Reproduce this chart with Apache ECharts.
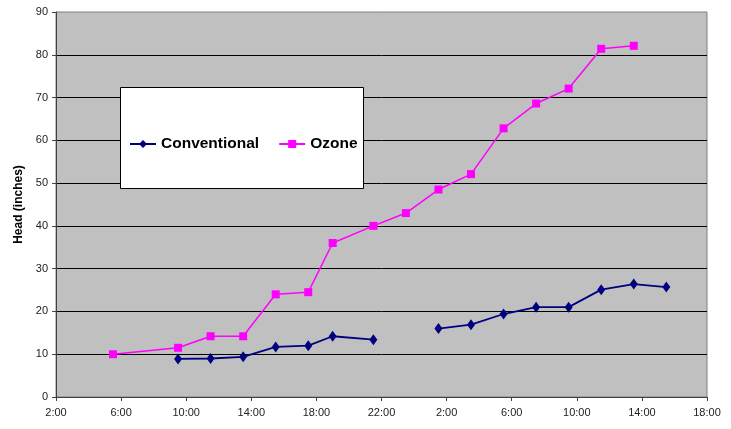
<!DOCTYPE html>
<html><head><meta charset="utf-8">
<script src="https://cdn.jsdelivr.net/npm/echarts@6/dist/echarts.min.js"></script>
<style>html,body{margin:0;padding:0;background:#fff}#c{width:731px;height:429px}</style>
</head><body><div id="c"></div>
<script>
// hours since 2:00 on day 1
const conventionalX = [7.5, 9.5, 11.5, 13.5, 15.5, 17, 19.5, 21.5, 23.5, 25.5, 27.5, 29.5, 31.5, 33.5, 35.5, 37.5];
const conventionalY = [8.9, 9.0, 9.4, 11.7, 12.0, 14.2, 13.4, '-', 16.0, 16.9, 19.4, 21.0, 21.0, 25.1, 26.4, 25.7];
const ozoneX = [3.5, 7.5, 9.5, 11.5, 13.5, 15.5, 17, 19.5, 21.5, 23.5, 25.5, 27.5, 29.5, 31.5, 33.5, 35.5];
const ozoneY = [10.0, 11.5, 14.2, 14.2, 24.0, 24.5, 36.0, 40.0, 43.0, 48.5, 52.1, 62.8, 68.6, 72.1, 81.4, 82.1];
const xTickLabels = ['2:00','6:00','10:00','14:00','18:00','22:00','2:00','6:00','10:00','14:00','18:00'];
const yTicks = [0,10,20,30,40,50,60,70,80,90];

const chart = echarts.init(document.getElementById('c'));
const font = 'Liberation Sans, Arial, sans-serif';
chart.setOption({
  animation: false,
  grid: {left: 56, right: 24, top: 12, bottom: 32, show: true, backgroundColor: '#c0c0c0', borderColor: '#808080', borderWidth: 1},
  legend: {
    left: 124, top: 131, itemWidth: 26, itemHeight: 10, itemGap: 19, z: 20,
    textStyle: {fontFamily: font, fontWeight: 'bold', fontSize: 15.5, color: '#000'},
    data: ['Conventional', 'Ozone']
  },
  graphic: [{
    type: 'rect', left: 120, top: 87, z: 10,
    shape: {width: 243, height: 101},
    style: {fill: '#fff', stroke: '#000', lineWidth: 1}
  }],
  xAxis: {
    type: 'value', min: 0, max: 40, interval: 4,
    axisLine: {show: true, lineStyle: {color: '#404040', width: 1}},
    axisTick: {show: true, length: 4, lineStyle: {color: '#404040'}},
    splitLine: {show: false},
    axisLabel: {fontFamily: font, fontSize: 11, color: '#222', margin: 10,
      formatter: v => xTickLabels[Math.round(v / 4)] || ''}
  },
  yAxis: {
    type: 'value', min: 0, max: 90, interval: 10,
    name: 'Head (inches)', nameLocation: 'middle', nameGap: 29,
    nameTextStyle: {fontFamily: font, fontWeight: 'bold', fontSize: 12, color: '#000'},
    axisLine: {show: true, lineStyle: {color: '#404040', width: 1}},
    axisTick: {show: true, length: 4, lineStyle: {color: '#404040'}},
    splitLine: {show: true, showMaxLine: false, lineStyle: {color: '#000', width: 1}},
    axisLabel: {fontFamily: font, fontSize: 11, color: '#222', margin: 8,
      formatter: v => yTicks.includes(v) ? String(v) : ''}
  },
  series: [
    {
      name: 'Conventional', type: 'line', z: 3,
      data: conventionalX.map((x, i) => [x, conventionalY[i]]),
      connectNulls: false,
      symbol: 'diamond', symbolSize: [8, 11],
      lineStyle: {color: '#000080', width: 1.8},
      itemStyle: {color: '#000080'}
    },
    {
      name: 'Ozone', type: 'line', z: 3,
      data: ozoneX.map((x, i) => [x, ozoneY[i]]),
      symbol: 'rect', symbolSize: 8,
      lineStyle: {color: '#ff00ff', width: 1.5},
      itemStyle: {color: '#ff00ff'}
    }
  ]
});
</script></body></html>
